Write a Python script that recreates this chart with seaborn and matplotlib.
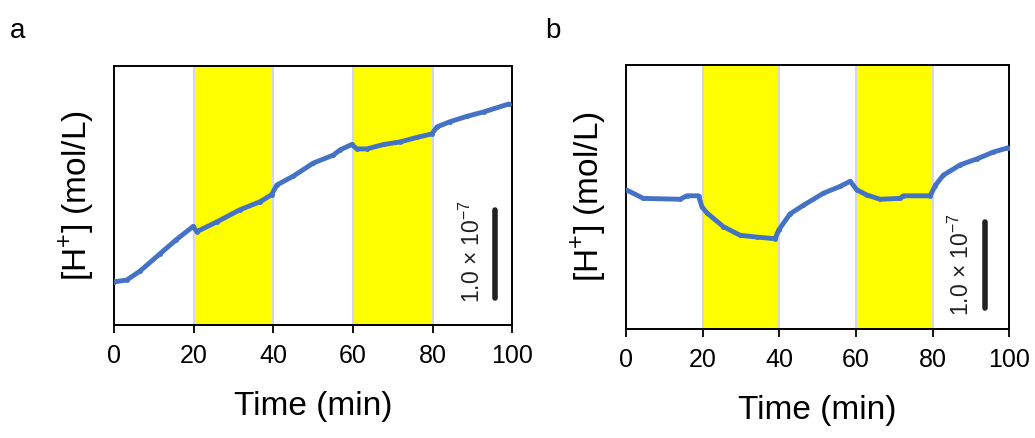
import matplotlib
matplotlib.use("Agg")
import matplotlib.pyplot as plt
import seaborn as sns
import pandas as pd

# ----------------------------------------------------------------------
# Data, [H+] in units of 1e-7 mol/L
# ----------------------------------------------------------------------
time_a = [0, 3.2, 6.5, 11.6, 15.7, 19.9, 20.8, 25.8, 31.7, 36.7, 39.6, 40.9,
          45, 50.1, 55.1, 56.8, 59.7, 61, 63.5, 67.7, 71.9, 76, 79.8, 81.1,
          84.4, 88.6, 92.8, 99.1]
conc_a = [0.49, 0.51, 0.61, 0.81, 0.97, 1.12, 1.06, 1.17, 1.31, 1.40, 1.48, 1.59,
          1.69, 1.84, 1.93, 1.99, 2.05, 2.00, 2.00, 2.05, 2.08, 2.13, 2.17, 2.25,
          2.31, 2.37, 2.42, 2.51]

time_b = [0, 4.5, 14.1, 15.8, 18.9, 19.8, 21.1, 25.4, 29.8, 34.1, 38.9, 39.8,
          42.8, 46.3, 51.5, 55.9, 58.5, 60.2, 62.8, 66.3, 71.5, 72.4, 79.4, 80.7,
          82.8, 87.2, 91.6, 95.9, 99.8]
conc_b = [1.62, 1.52, 1.51, 1.55, 1.55, 1.42, 1.35, 1.19, 1.09, 1.07, 1.05, 1.15,
          1.34, 1.44, 1.58, 1.66, 1.72, 1.62, 1.56, 1.51, 1.52, 1.55, 1.55, 1.67,
          1.79, 1.91, 1.98, 2.06, 2.11]

light_periods = [(20, 40), (60, 80)]
x_ticks = [0, 20, 40, 60, 80, 100]

sns.set_theme(style="white")
plt.rcParams["font.family"] = ["Liberation Sans", "DejaVu Sans"]
plt.rcParams["text.color"] = "black"
plt.rcParams["axes.labelcolor"] = "black"
plt.rcParams["xtick.color"] = "black"

fig = plt.figure(figsize=(10.35, 4.38), dpi=100)
ax_a = fig.add_axes([0.110, 0.258, 0.385, 0.591])
ax_b = fig.add_axes([0.605, 0.249, 0.370, 0.602])

panels = [
    (ax_a, time_a, conc_a, 2.94, "a", 95.7, (0.31, 1.31), 90.0, 0.84),
    (ax_b, time_b, conc_b, 3.07, "b", 93.7, (0.24, 1.24), 87.5, 0.75),
]

for ax, t, c, ymax, tag, bar_x, bar_y, txt_x, txt_y in panels:
    for start, end in light_periods:
        ax.axvspan(start, end, color="#ffff00", lw=0, zorder=0)
    for edge in [20, 40, 60, 80]:
        ax.axvline(edge, color="#d4d6e4", lw=1.5, zorder=1)

    df = pd.DataFrame({"Time": t, "H": c})
    sns.lineplot(data=df, x="Time", y="H", ax=ax, color="#4472c4", lw=3.5,
                 marker="o", markersize=3.5, markeredgewidth=0, zorder=3)

    # scale bar
    ax.plot([bar_x, bar_x], bar_y, color="#222222", lw=4,
            solid_capstyle="round", zorder=4)
    ax.text(txt_x, txt_y, "1.0 × 10$^{\\mathregular{-7}}$", rotation=90,
            ha="center", va="center", fontsize=16.5, color="#222222")

    ax.set_xlim(0, 100)
    ax.set_ylim(0, ymax)
    ax.set_xticks(x_ticks)
    ax.set_yticks([])
    ax.tick_params(axis="x", direction="out", length=6, width=1.3,
                   labelsize=18, pad=8, bottom=True, color="black")
    ax.set_xlabel("Time (min)", fontsize=24, labelpad=16)
    ax.set_ylabel("[H$^{\\mathregular{+}}$] (mol/L)", fontsize=24, labelpad=13)
    for s in ax.spines.values():
        s.set_color("black")
        s.set_linewidth(1.4)

fig.text(0.010, 0.93, "a", fontsize=20, ha="left", va="center")
fig.text(0.527, 0.93, "b", fontsize=20, ha="left", va="center")

fig.savefig("out.png", dpi=100)
